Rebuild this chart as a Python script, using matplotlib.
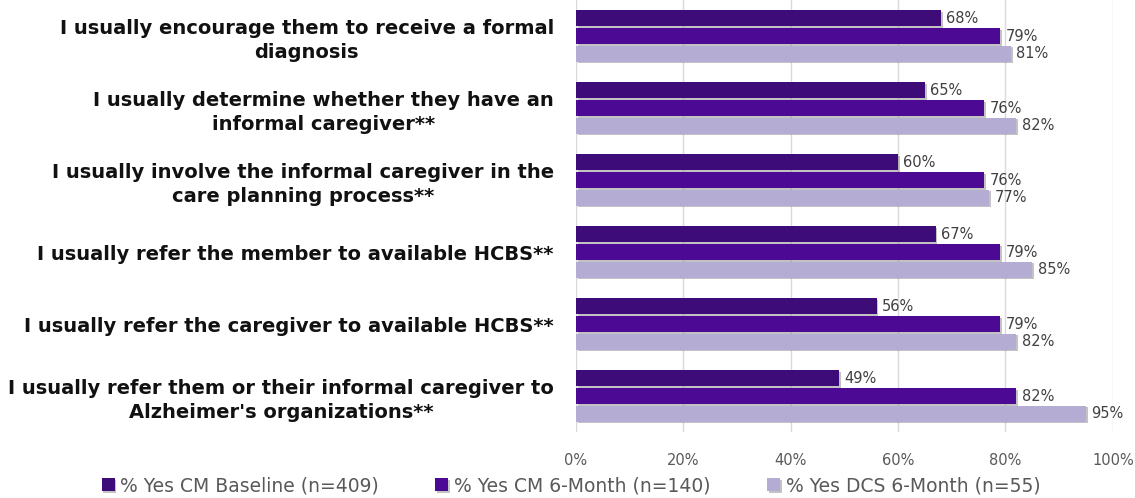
import numpy as np
import matplotlib
matplotlib.use("Agg")
import matplotlib.pyplot as plt  # noqa: E402
import matplotlib.patheffects as pe  # noqa: E402

categories = [
    "I usually encourage them to receive a formal\ndiagnosis",
    "I usually determine whether they have an\ninformal caregiver**",
    "I usually involve the informal caregiver in the\ncare planning process**",
    "I usually refer the member to available HCBS**",
    "I usually refer the caregiver to available HCBS**",
    "I usually refer them or their informal caregiver to\nAlzheimer's organizations**",
]
series_names = ["% Yes CM Baseline (n=409)", "% Yes CM 6-Month (n=140)", "% Yes DCS 6-Month (n=55)"]
cm_baseline = [68, 65, 60, 67, 56, 49]
cm_6month = [79, 76, 76, 79, 79, 82]
dcs_6month = [81, 82, 77, 85, 82, 95]
xticks = [0, 20, 40, 60, 80, 100]

colors = ["#3d0c78", "#4c0993", "#b4acd3"]
series = [cm_baseline, cm_6month, dcs_6month]

fig = plt.figure(figsize=(11.35, 4.98), dpi=100)
ax = fig.add_axes([0.5075, 0.1325, 0.473, 0.8675])

y = np.arange(len(categories))
h = 0.225
step = 0.245
shadow = [pe.SimplePatchShadow(offset=(1.2, -1.2), shadow_rgbFace="#888888", alpha=0.5), pe.Normal()]
for k, (vals, col, name) in enumerate(zip(series, colors, series_names)):
    pos = y + (k - 1) * step
    bars = ax.barh(pos, vals, height=h, color=col, label=name, zorder=3)
    for b in bars:
        b.set_path_effects(shadow)
    for p, v in zip(pos, vals):
        ax.text(v + 1.0, p, f"{v}%", va="center", ha="left", fontsize=10.5,
                color="#404040", zorder=4)

ax.set_xlim(0, 100)
ax.set_ylim(len(categories) - 0.5, -0.5)
ax.set_xticks(xticks)
ax.set_xticklabels([f"{t}%" for t in xticks], color="#595959", fontsize=10.5)
ax.set_yticks(y)
ax.set_yticklabels(categories, fontsize=14, fontweight="bold", color="#111111",
                   multialignment="center", linespacing=1.3)
ax.tick_params(axis="y", length=0, pad=16)
ax.tick_params(axis="x", length=0, pad=15)
ax.grid(axis="x", color="#d9d9d9", linewidth=1, zorder=0)
for s in ax.spines.values():
    s.set_visible(False)

fig.legend(loc="lower center", bbox_to_anchor=(0.503, -0.028), ncol=3, frameon=False,
           fontsize=13.5, handlelength=0.7, handleheight=0.7, handletextpad=0.3,
           columnspacing=3.0, labelcolor="#595959")

fig.savefig("out.png", dpi=100)
